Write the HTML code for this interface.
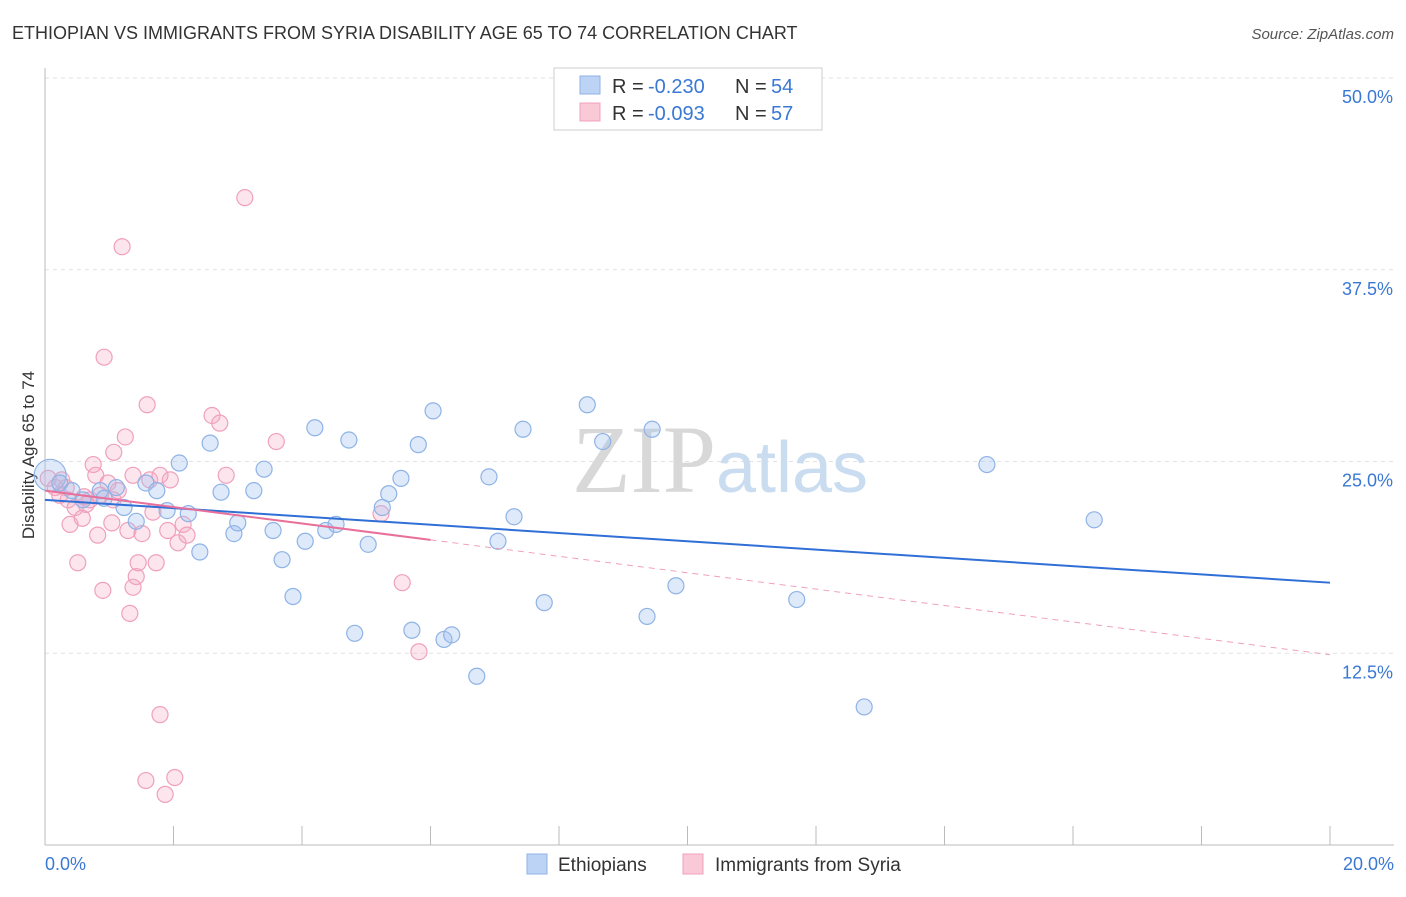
<!DOCTYPE html>
<html><head><meta charset="utf-8"><style>
body{margin:0;background:#fff;font-family:"Liberation Sans",sans-serif}
svg text{font-family:"Liberation Sans",sans-serif}
</style></head><body>
<svg id="chart" width="1406" height="892">
<text x="12" y="39" font-size="18" fill="#333">ETHIOPIAN VS IMMIGRANTS FROM SYRIA DISABILITY AGE 65 TO 74 CORRELATION CHART</text>
<text x="1394" y="39" font-size="15" fill="#555" font-style="italic" text-anchor="end">Source: ZipAtlas.com</text>
<text x="0" y="0" transform="translate(34,455) rotate(-90)" font-size="17" fill="#333" text-anchor="middle">Disability Age 65 to 74</text>
<g id="grid"></g>
<text x="720" y="492" font-size="96" fill="#dde3ea" text-anchor="middle" font-family="Liberation Serif"><tspan fill="#d8d8d8" font-family="Liberation Serif">ZIP</tspan><tspan fill="#c9dcf0" font-family="Liberation Sans" font-size="72">atlas</tspan></text>
<g id="pts"></g>
<g id="lines"></g>
<g>
<rect x="554" y="68" width="268" height="62" fill="#fff" stroke="#ccc"/>
<rect x="580" y="76" width="20" height="18" fill="#bcd3f5" stroke="#8fb3e6"/>
<text x="612" y="93" font-size="20" fill="#333">R =</text>
<text x="648" y="93" font-size="20" fill="#3a78d4">-0.230</text>
<text x="735" y="93" font-size="20" fill="#333">N =</text>
<text x="771" y="93" font-size="20" fill="#3a78d4">54</text>
<rect x="580" y="103" width="20" height="18" fill="#f9c9d8" stroke="#f0a0bc"/>
<text x="612" y="120" font-size="20" fill="#333">R =</text>
<text x="648" y="120" font-size="20" fill="#3a78d4">-0.093</text>
<text x="735" y="120" font-size="20" fill="#333">N =</text>
<text x="771" y="120" font-size="20" fill="#3a78d4">57</text>
</g>
<g>
<rect x="527" y="854" width="20" height="20" fill="#bcd3f5" stroke="#8fb3e6"/>
<text x="558" y="871" font-size="19" fill="#333">Ethiopians</text>
<rect x="683" y="854" width="20" height="20" fill="#f9c9d8" stroke="#f0a0bc"/>
<text x="715" y="871" font-size="19" fill="#333">Immigrants from Syria</text>
</g>
</svg>
<script>
const yTicks=[12.5,25,37.5,50];
const yTickLabels=["12.5%","25.0%","37.5%","50.0%"];
const xTickLabels=["0.0%","20.0%"];
const blueX=[.08,.23,.42,.59,.86,.92,1.11,1.23,1.42,1.57,1.74,1.90,2.09,2.23,2.41,2.57,2.74,2.94,3.00,3.25,3.41,3.55,3.69,3.86,4.05,4.20,4.37,4.53,4.73,4.82,5.03,5.25,5.35,5.54,5.71,5.81,6.04,6.21,6.33,6.72,6.91,7.05,7.30,7.44,7.77,8.44,8.68,9.37,9.45,9.82,11.70,12.75,14.66,16.33];
const blueY=[24.1,23.6,23.1,22.5,23.1,22.6,23.3,22.0,21.1,23.6,23.1,21.8,24.9,21.6,19.1,26.2,23.0,20.3,21.0,23.1,24.5,20.5,18.6,16.2,19.8,27.2,20.5,20.9,26.4,13.8,19.6,22.0,22.9,23.9,14.0,26.1,28.3,13.4,13.7,11.0,24.0,19.8,21.4,27.1,15.8,28.7,26.3,14.9,27.1,16.9,16.0,9.0,24.8,21.2];
const pinkX=[.05,.16,.26,.36,.39,.47,.51,.58,.64,.70,.75,.79,.82,.90,.92,.98,1.04,1.07,1.14,1.20,1.25,1.29,1.32,1.37,1.42,1.45,1.51,1.59,1.63,1.68,1.73,1.79,1.79,1.87,1.57,1.95,1.91,2.02,2.07,2.15,2.21,2.60,2.72,2.82,3.11,3.60,5.23,5.56,5.82,.23,.61,.33,.86,1.06,1.37];
const pinkY=[23.9,23.3,23.8,22.5,20.9,22.0,18.4,21.3,22.2,22.5,24.8,24.1,20.2,16.6,31.8,23.6,21.0,25.6,23.1,39.0,26.6,20.5,15.1,16.8,17.5,18.4,20.3,28.7,23.8,21.7,18.4,8.5,24.1,3.3,4.2,23.8,20.5,4.4,19.7,20.9,20.2,28.0,27.5,24.1,42.2,26.3,21.6,17.1,12.6,22.8,22.7,23.3,22.8,22.5,24.1];
const blueTrend=[22.5,17.1];
const pinkTrend=[23.1,12.4];
const X=v=>45+v/20*1285, Y=v=>845-v*15.34;
const NS="http://www.w3.org/2000/svg";
function mk(t,a,p){const e=document.createElementNS(NS,t);for(const k in a)e.setAttribute(k,a[k]);p.appendChild(e);return e;}
const g=document.getElementById('grid');
yTicks.forEach((t,i)=>{
 const l=mk('line',{x1:45,x2:1394,y1:Y(t),y2:Y(t),stroke:'#e2e2e2','stroke-dasharray':'4,4'},g);
 
 
 const tx=mk('text',{x:1393,y:Y(t)+25,'font-size':18,fill:'#3a78d4','text-anchor':'end'},g);tx.textContent=yTickLabels[i];
 
 
});
mk('line',{x1:45,x2:45,y1:68,y2:845,stroke:'#bbb'},g);
mk('line',{x1:45,x2:1394,y1:845,y2:845,stroke:'#bbb'},g);
for(let i=0;i<=10;i++){mk('line',{x1:X(i*2),x2:X(i*2),y1:826,y2:845,stroke:'#bbb'},g);}
[0,20].forEach((v,i)=>{const tx=mk('text',{x:i?1394:45,y:870,'font-size':18,fill:'#3a78d4','text-anchor':i?'end':'start'},g);tx.textContent=xTickLabels[i];
 
 });
const p=document.getElementById('pts');
pinkX.forEach((x,i)=>{const c=mk('circle',{cx:X(x),cy:Y(pinkY[i]),r:8,fill:'rgba(244,170,196,0.3)',stroke:'#f0a0bc','stroke-width':1.2},p);
 
 });
blueX.forEach((x,i)=>{const c=mk('circle',{cx:X(x),cy:Y(blueY[i]),r:i==0?16:8,fill:'rgba(160,192,238,0.35)',stroke:'#8fb3e6','stroke-width':1.2},p);
 
 });
const L=document.getElementById('lines');
const bl=mk('line',{x1:X(0),y1:Y(blueTrend[0]),x2:X(20),y2:Y(blueTrend[1]),stroke:'#2f6fd6','stroke-width':2},L);


const pm=pinkTrend[0]+(pinkTrend[1]-pinkTrend[0])*6/20;
const ps=mk('line',{x1:X(0),y1:Y(pinkTrend[0]),x2:X(6),y2:Y(pm),stroke:'#e8709a','stroke-width':2},L);


const pd=mk('line',{x1:X(6),y1:Y(pm),x2:X(20),y2:Y(pinkTrend[1]),stroke:'#f0a0bc','stroke-width':1,'stroke-dasharray':'6,5'},L);


</script>
</body></html>
